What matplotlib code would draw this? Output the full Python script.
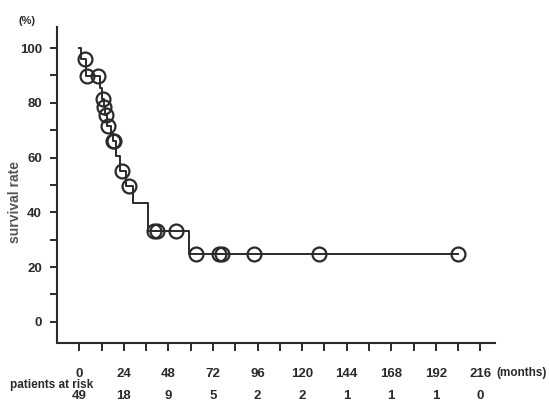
import matplotlib
matplotlib.use("Agg")
import matplotlib.pyplot as plt
import numpy as np

# Kaplan-Meier step function (time in months, survival in %)
step_times = [0, 1, 3.5, 11, 12, 13, 14, 15, 17, 18, 20, 22, 25, 29, 37, 59]
step_surv = [100, 95.9, 89.8, 85.5, 81.4, 78.6, 75.6, 71.4, 68.6, 66.0, 60.5, 55.0, 49.5, 43.4, 33.2, 24.9]
end_time = 204

# censored observations (time in months)
censor_times = [3, 4, 10, 12.5, 13.5, 14.5, 15.5, 18, 18.5, 23, 27, 40, 42, 52,
                63, 75, 77, 94, 129, 204]

# axis ticks and numbers at risk
xtick_major = [0, 24, 48, 72, 96, 120, 144, 168, 192, 216]
at_risk = [49, 18, 9, 5, 2, 2, 1, 1, 1, 0]
ytick_major = [0, 20, 40, 60, 80, 100]

plt.rcParams['font.family'] = ['Liberation Sans', 'DejaVu Sans']
ink = '#2a2a2a'

fig = plt.figure(figsize=(5.49, 4.03), dpi=100)
ax = fig.add_axes([0.104, 0.149, 0.798, 0.784])

# step curve
xs = list(step_times) + [end_time]
ys = list(step_surv) + [step_surv[-1]]
ax.step(xs, ys, where='post', color=ink, lw=1.4)

def surv_at(t):
    s = step_surv[0]
    for tt, ss in zip(step_times, step_surv):
        if t >= tt:
            s = ss
    return s

cy = [surv_at(t) for t in censor_times]
ax.plot(censor_times, cy, ls='none', marker='o', ms=10, mfc='none',
        mec=ink, mew=1.6)

ax.set_xlim(-12, 224)
ax.set_ylim(-7.7, 107.7)
ax.spines['top'].set_visible(False)
ax.spines['right'].set_visible(False)
for s in ('left', 'bottom'):
    ax.spines[s].set_color(ink)
    ax.spines[s].set_linewidth(1.5)

ax.set_xticks(xtick_major)
ax.set_xticklabels([str(v) for v in xtick_major])
ax.set_xticks(np.arange(12, 216, 24), minor=True)
ax.set_yticks(ytick_major)
ax.set_yticks(np.arange(10, 100, 20), minor=True)
ax.tick_params(axis='both', which='both', direction='out', color=ink, width=1.4,
               labelcolor=ink, labelsize=9.5)
ax.tick_params(axis='x', which='both', length=6, pad=12)
ax.tick_params(axis='y', which='both', length=5, pad=6)
for lab in ax.get_xticklabels() + ax.get_yticklabels():
    lab.set_fontweight('bold')

fig.text(0.027, 0.499, 'survival rate', fontsize=10, fontweight='bold', color='#555555',
         rotation=90, ha='center', va='center')
fig.text(0.049, 0.948, '(%)', fontsize=8, fontweight='bold', color=ink, ha='center', va='center')
fig.text(0.950, 0.074, '(months)', fontsize=8.5, fontweight='bold', color=ink, ha='center', va='center')
fig.text(0.018, 0.045, 'patients at risk', fontsize=8.5, fontweight='bold', color=ink,
         ha='left', va='center')

for t, n in zip(xtick_major, at_risk):
    xf = ax.transData.transform((t, 0))[0]
    xfig = fig.transFigure.inverted().transform((xf, 0))[0]
    fig.text(xfig, 0.002, str(n), fontsize=9.5, fontweight='bold', color=ink,
             ha='center', va='bottom')

fig.savefig('out.png', dpi=100)
